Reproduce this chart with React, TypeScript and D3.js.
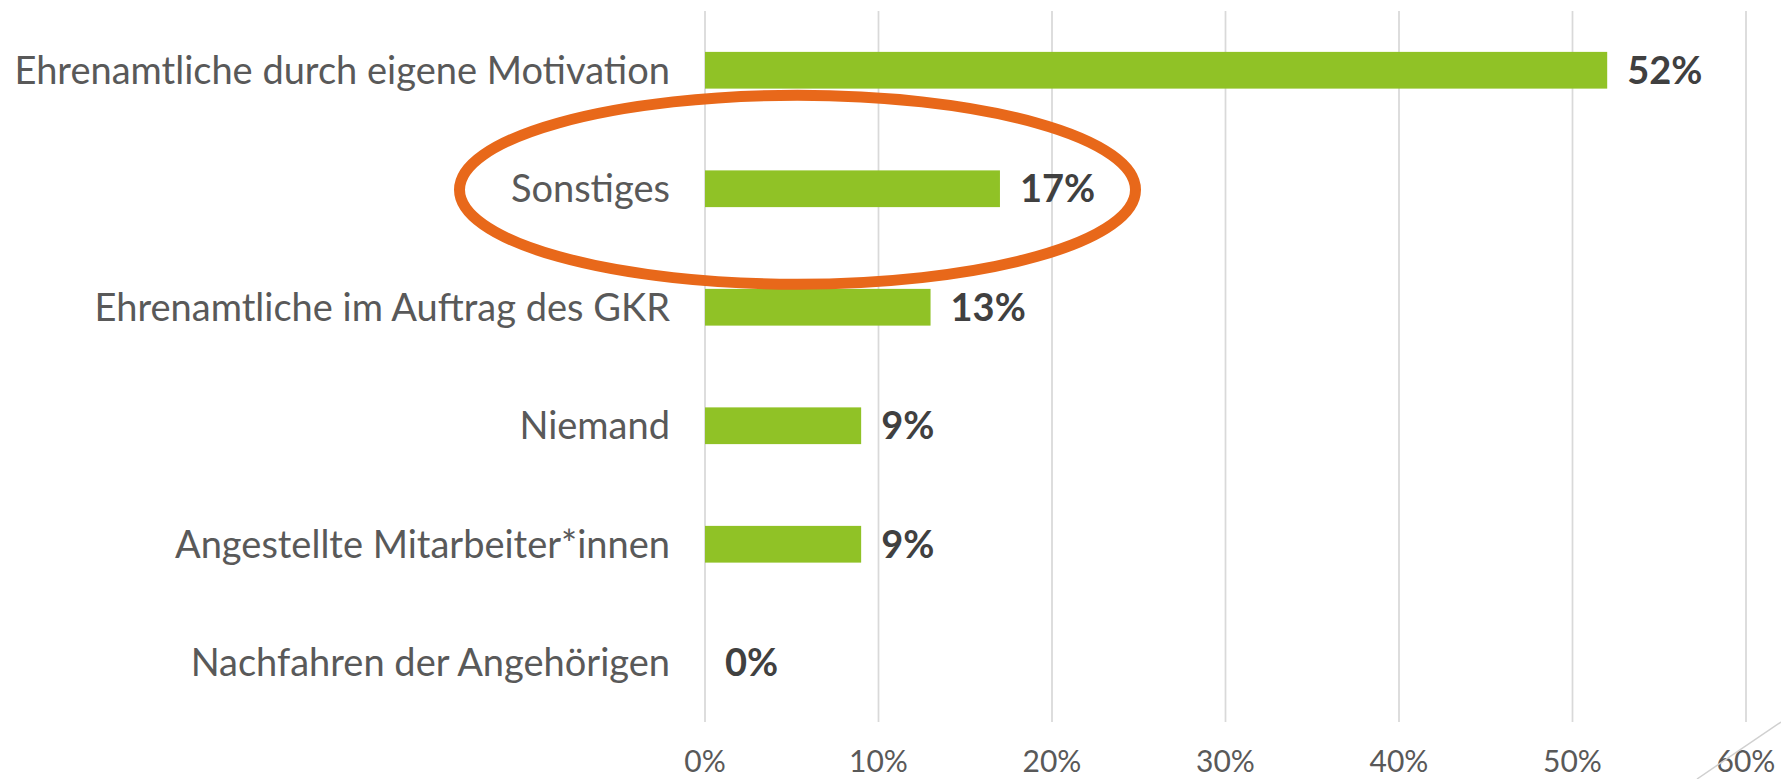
import React, { useEffect, useRef } from 'react';
import * as d3 from 'd3';

// categories top to bottom
const categories = [
  'Ehrenamtliche durch eigene Motivation',
  'Sonstiges',
  'Ehrenamtliche im Auftrag des GKR',
  'Niemand',
  'Angestellte Mitarbeiter*innen',
  'Nachfahren der Angehörigen',
];
const shares = [52, 17, 13, 9, 9, 0];
const xTicks = [0, 10, 20, 30, 40, 50, 60];
const highlighted = 'Sonstiges';

const W = 1781;
const H = 779;

const App = () => {
  const ref = useRef<SVGSVGElement | null>(null);

  useEffect(() => {
    document.body.style.margin = '0';
    document.body.style.overflow = 'hidden';

    const svg = d3.select(ref.current);
    svg.selectAll('*').remove();

    const x = d3.scaleLinear().domain([0, 60]).range([705, 1746]);
    const y = d3.scaleBand().domain(categories).range([11, 722]).paddingInner(0.69).paddingOuter(0.345);

    const rows = categories.map((c, i) => ({ cat: c, value: shares[i] }));

    // vertical gridlines
    svg.append('g')
      .selectAll('line')
      .data(xTicks)
      .enter()
      .append('line')
      .attr('x1', d => x(d))
      .attr('x2', d => x(d))
      .attr('y1', 11)
      .attr('y2', 722)
      .attr('stroke', '#d9d9d9')
      .attr('stroke-width', 1.75);

    // tick labels
    svg.append('g')
      .selectAll('text')
      .data(xTicks)
      .enter()
      .append('text')
      .attr('x', d => x(d))
      .attr('y', 772)
      .attr('text-anchor', 'middle')
      .style('font-family', 'Lato, sans-serif')
      .style('font-size', '30px')
      .style('fill', '#595959')
      .text(d => `${d}%`);

    // bars
    svg.append('g')
      .selectAll('rect')
      .data(rows)
      .enter()
      .append('rect')
      .attr('x', x(0))
      .attr('y', d => y(d.cat)!)
      .attr('width', d => x(d.value) - x(0))
      .attr('height', y.bandwidth())
      .attr('fill', '#90c226');

    // category labels
    svg.append('g')
      .selectAll('text')
      .data(rows)
      .enter()
      .append('text')
      .attr('x', 670)
      .attr('y', d => y(d.cat)! + y.bandwidth() / 2)
      .attr('dy', '0.35em')
      .attr('text-anchor', 'end')
      .style('font-family', 'Lato, sans-serif')
      .style('font-size', '38px')
      .style('fill', '#595959')
      .text(d => d.cat);

    // value labels
    svg.append('g')
      .selectAll('text')
      .data(rows)
      .enter()
      .append('text')
      .attr('x', d => x(d.value) + 20)
      .attr('y', d => y(d.cat)! + y.bandwidth() / 2)
      .attr('dy', '0.35em')
      .style('font-family', 'Lato, sans-serif')
      .style('font-size', '38px')
      .style('font-weight', 'bold')
      .style('fill', '#404040')
      .text(d => `${d.value}%`);

    // orange highlight ring round "Sonstiges"
    const cy = y(highlighted)! + y.bandwidth() / 2;
    svg.append('ellipse')
      .attr('cx', 797.5)
      .attr('cy', cy + 1)
      .attr('rx', 338)
      .attr('ry', 94.5)
      .attr('fill', 'none')
      .attr('stroke', '#e8681a')
      .attr('stroke-width', 11);

    // slide decoration, bottom right
    svg.append('line')
      .attr('x1', 1697)
      .attr('y1', 779)
      .attr('x2', 1781)
      .attr('y2', 722)
      .attr('stroke', '#d0d0d0')
      .attr('stroke-width', 1.5);
  }, []);

  return <svg ref={ref} width={W} height={H} style={{ display: 'block', background: '#fff' }} />;
};

export default App;
